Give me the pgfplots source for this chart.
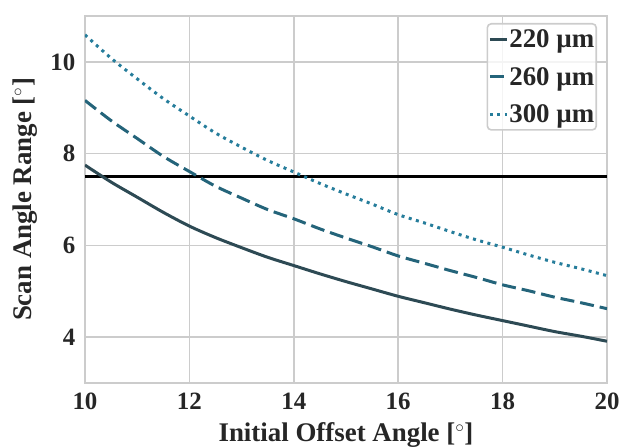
\documentclass[border=0pt]{standalone}
\usepackage{pgfplots}
\pgfplotsset{compat=1.18}
\usepackage{fontspec}
\setmainfont{Liberation Serif}
\definecolor{cA}{RGB}{45,74,84}
\definecolor{cB}{RGB}{36,100,122}
\definecolor{cC}{RGB}{38,125,155}
\definecolor{gridc}{RGB}{204,204,204}
\begin{document}
\begin{tikzpicture}
\begin{axis}[
  scale only axis,
  width=522bp, height=367bp,
  xmin=10, xmax=20, ymin=3, ymax=11,
  xtick={10,12,...,20}, ytick={4,6,8,10},
  major tick length=0pt,
  axis line style={gridc, line width=1.6bp},
  grid=major,
  grid style={gridc, line width=1.6bp},
  /pgf/number format/assume math mode=true,
  tick label style={font=\fontsize{25}{25}\selectfont\bfseries, text=black!85},
  y tick label style={anchor=east, inner sep=0pt, xshift=-9.5bp},
  x tick label style={anchor=north, inner sep=0pt, yshift=-10bp},
  xlabel={Initial Offset Angle [$^{\circ}$]},
  ylabel={Scan Angle Range [$^{\circ}$]},
  label style={font=\fontsize{27}{27}\selectfont\bfseries, text=black!85},
  xlabel style={at={(axis description cs:0.5,0)}, anchor=base, yshift=-58bp},
  ylabel style={at={(axis description cs:-0.115,0.5)}, anchor=center, rotate=0},
  legend style={at={(rel axis cs:0.981,0.981)}, anchor=north east,
    draw=gridc, line width=1.6bp, rounded corners=4bp, fill=white, fill opacity=0.8, text opacity=1,
    font=\fontsize{27}{27}\selectfont\bfseries, text=black!85,
    inner xsep=1bp, inner ysep=5bp, row sep=16bp,
    nodes={inner xsep=1bp, inner ysep=1bp}},
  legend cell align=left,
  legend image code/.code={\draw[#1] (0bp,0bp) -- (17bp,0bp);},
]
\addplot[black, line width=2.8bp, forget plot] coordinates {(10,7.5) (20,7.5)};
\addplot[cA, line width=3bp, smooth] coordinates {
(10,7.75) (10.5,7.38) (11,7.05) (11.5,6.72) (12,6.42) (12.5,6.17) (13,5.95) (13.5,5.74) (14,5.56) (14.5,5.38) (15,5.21) (15.5,5.05) (16,4.89) (16.5,4.75) (17,4.61) (17.5,4.48) (18,4.36) (18.5,4.24) (19,4.12) (19.5,4.02) (20,3.91)};
\addlegendentry{220 µm}
\addplot[cB, line width=3bp, smooth, dash pattern=on 14bp off 6bp] coordinates {
(10,9.16) (10.5,8.72) (11,8.33) (11.5,7.94) (12,7.61) (12.5,7.29) (13,7.03) (13.5,6.78) (14,6.58) (14.5,6.36) (15,6.16) (15.5,5.97) (16,5.77) (16.5,5.61) (17,5.45) (17.5,5.30) (18,5.14) (18.5,5.01) (19,4.87) (19.5,4.75) (20,4.62)};
\addlegendentry{260 µm}
\addplot[cC, line width=3bp, smooth, dash pattern=on 3bp off 4.5bp] coordinates {
(10,10.59) (10.5,10.08) (11,9.63) (11.5,9.20) (12,8.82) (12.5,8.45) (13,8.14) (13.5,7.85) (14,7.60) (14.5,7.35) (15,7.12) (15.5,6.90) (16,6.67) (16.5,6.49) (17,6.30) (17.5,6.12) (18,5.96) (18.5,5.79) (19,5.63) (19.5,5.49) (20,5.34)};
\addlegendentry{300 µm}
\end{axis}
\pgfresetboundingbox
\path[use as bounding box] (-85bp,-65bp) rectangle (535bp,383bp);
\end{tikzpicture}
\end{document}
